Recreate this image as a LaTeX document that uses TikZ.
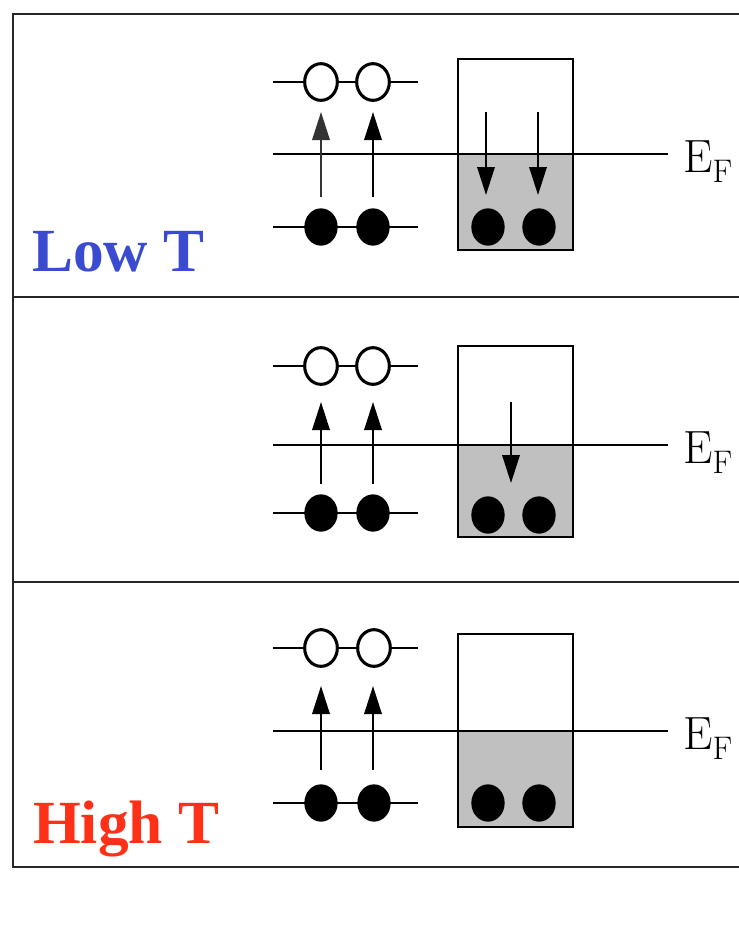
\documentclass[tikz,border=0pt]{standalone}
\usepackage{fontspec}
\newfontfamily\labfont{Liberation Serif}
\usetikzlibrary{arrows.meta,shapes.geometric}
\definecolor{lowblue}{RGB}{58,75,209}
\definecolor{highred}{RGB}{255,48,24}
\definecolor{bandgray}{RGB}{192,192,192}
\tikzset{
  px/.style={x=0.75pt,y=-0.75pt},
  frameline/.style={line width=2.2pt,black!85},
  level/.style={line width=2.1pt},
  fermi/.style={line width=1.8pt},
  bandbox/.style={draw,line width=2.1pt},
  bandfill/.style={fill=bandgray},
  openstate/.style={ellipse,draw,fill=white,line width=2.3pt,minimum width=24.5pt,minimum height=27.5pt,inner sep=0pt},
  fullstate/.style={ellipse,fill=black,minimum width=25pt,minimum height=28pt,inner sep=0pt},
  transfer/.style={line width=1.8pt,-{Triangle[length=21pt,width=13pt]}},
  eflabel/.style={anchor=base west,font=\fontsize{35}{35}\selectfont,inner sep=0pt},
  templabel/.style={anchor=base west,font=\labfont\bfseries\fontsize{46}{46}\selectfont,inner sep=0pt}
}
\begin{document}
\begin{tikzpicture}[px]
\useasboundingbox (0,0) rectangle (739,936);
\fill[white] (0,0) rectangle (739,936);
% frame
\draw[frameline] (739,14) -- (13,14) -- (13,867) -- (739,867);
\draw[frameline] (13,297) -- (739,297);
\draw[frameline] (13,582) -- (739,582);

% ================= Panel 1 : Low T =================
\fill[bandfill] (458,154) rectangle (573,250);
\draw[fermi] (273,154) -- (668,154);
\draw[bandbox] (458,59) rectangle (573,250);
\draw[level] (273,82) -- (418,82);
\draw[level] (273,227) -- (418,227);
\node[openstate] (a1) at (321,82) {};
\node[openstate] (a2) at (373,82) {};
\node[fullstate] (b1) at (321,227) {};
\node[fullstate] (b2) at (373,227) {};
\node[fullstate] (c1) at (488,227) {};
\node[fullstate] (c2) at (539,227) {};
\coordinate (u1s) at (321,197); \coordinate (u1e) at (321,112);
\coordinate (u2s) at (373,197); \coordinate (u2e) at (373,112);
\coordinate (d1s) at (486,112); \coordinate (d1e) at (486,195);
\coordinate (d2s) at (538,112); \coordinate (d2e) at (538,195);
\draw[transfer,black!80] (u1s) -- (u1e);
\draw[transfer] (u2s) -- (u2e);
\draw[transfer] (d1s) -- (d1e);
\draw[transfer] (d2s) -- (d2e);
\node[eflabel] (ef1) at (683,172) {$\mathrm{E}_{\mathrm{F}}$};
\node[templabel,text=lowblue] (lowT) at (32,271) {Low T};

% ================= Panel 2 =================
\fill[bandfill] (458,445) rectangle (573,537);
\draw[fermi] (273,445) -- (668,445);
\draw[bandbox] (458,346) rectangle (573,537);
\draw[level] (273,366) -- (418,366);
\draw[level] (273,513) -- (418,513);
\node[openstate] (a3) at (321,366) {};
\node[openstate] (a4) at (373,366) {};
\node[fullstate] (b3) at (321,513) {};
\node[fullstate] (b4) at (373,513) {};
\node[fullstate] (c3) at (488,515) {};
\node[fullstate] (c4) at (539,515) {};
\coordinate (u3s) at (321,484); \coordinate (u3e) at (321,402);
\coordinate (u4s) at (373,484); \coordinate (u4e) at (373,402);
\coordinate (d3s) at (511,402); \coordinate (d3e) at (511,483);
\draw[transfer] (u3s) -- (u3e);
\draw[transfer] (u4s) -- (u4e);
\draw[transfer] (d3s) -- (d3e);
\node[eflabel] (ef2) at (683,463) {$\mathrm{E}_{\mathrm{F}}$};

% ================= Panel 3 : High T =================
\fill[bandfill] (458,731) rectangle (573,827);
\draw[fermi] (273,731) -- (668,731);
\draw[bandbox] (458,634) rectangle (573,827);
\draw[level] (273,648) -- (418,648);
\draw[level] (273,803) -- (418,803);
\node[openstate] (a5) at (321,648) {};
\node[openstate] (a6) at (374,648) {};
\node[fullstate] (b5) at (321,803) {};
\node[fullstate] (b6) at (374,803) {};
\node[fullstate] (c5) at (488,803) {};
\node[fullstate] (c6) at (539,803) {};
\coordinate (u5s) at (321,770); \coordinate (u5e) at (321,686);
\coordinate (u6s) at (373,770); \coordinate (u6e) at (373,686);
\draw[transfer] (u5s) -- (u5e);
\draw[transfer] (u6s) -- (u6e);
\node[eflabel] (ef3) at (683,749) {$\mathrm{E}_{\mathrm{F}}$};
\node[templabel,text=highred] (highT) at (33,843) {High T};
\end{tikzpicture}
\end{document}
